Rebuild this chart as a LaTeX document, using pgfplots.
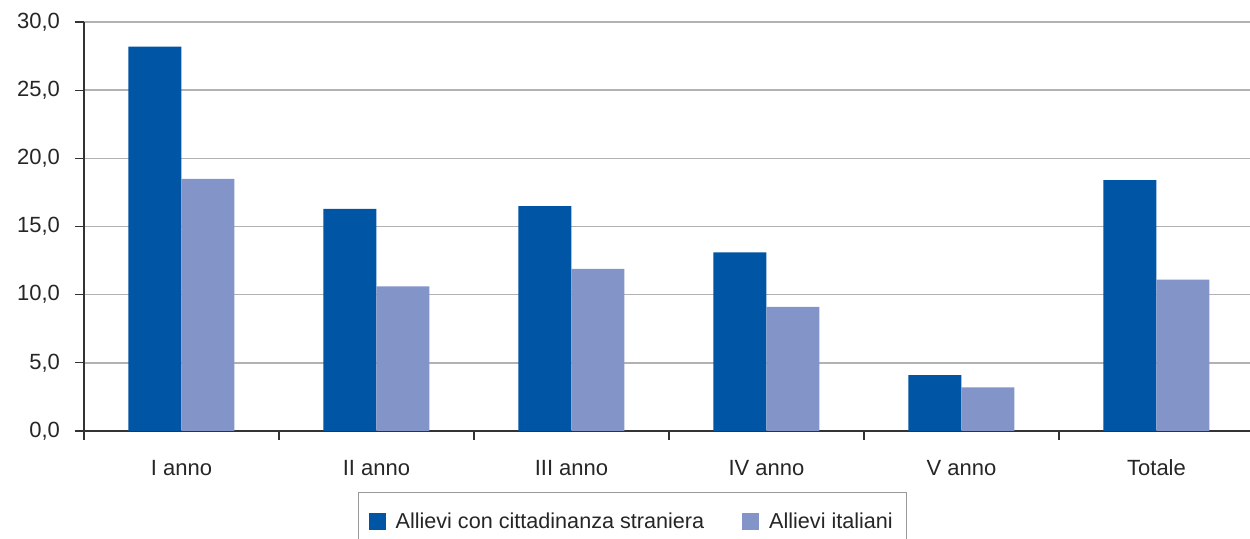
\documentclass[border=0pt]{standalone}
\usepackage{fontspec}
\setmainfont{Liberation Sans}
\usepackage{pgfplots}
\pgfplotsset{compat=1.18}
\definecolor{stranieri}{HTML}{0055A4}
\definecolor{italiani}{HTML}{8294C8}

\begin{document}
\begin{tikzpicture}
% picture frame: the axis runs past the right edge, legend is cut at the bottom
\clip (-42pt,-54pt) rectangle (583pt,215.5pt);
\begin{axis}[
  scale only axis, width=585pt, height=204.5pt,
  ybar=0pt, bar width=26.5pt,
  xmin=-0.5, xmax=5.5, ymin=0, ymax=30,
  xtick={0,...,5},
  xticklabels={I anno, II anno, III anno, IV anno, V anno, Totale},
  major x tick style={draw=none},
  minor xtick={-0.5,0.5,...,5.5},
  ytick={0,5,...,30},
  tick align=outside,
  major tick length=4.5pt, minor tick length=4.5pt,
  tick style={black!80, line width=0.6pt},
  axis x line*=bottom, axis y line*=left,
  axis line style={-, black!80, line width=0.6pt},
  ymajorgrids, grid style={black!30, line width=0.7pt},
  tick label style={font=\fontsize{11}{13}\selectfont, black!85},
  xticklabel style={yshift=-6.5pt},
  yticklabel style={xshift=-4pt},
  /pgf/number format/.cd, fixed, fixed zerofill, precision=1, use comma,
    assume math mode=true,
  /pgfplots/.cd,
  legend columns=2,
  legend style={at={(0.2342,-0.149)}, anchor=north west,
    draw=black!40, line width=0.6pt,
    font=\fontsize{10.8}{13}\selectfont, text=black!85,
    inner xsep=5pt, inner ysep=8pt,
    /tikz/every odd column/.append style={column sep=3pt},
    /tikz/every even column/.append style={column sep=17pt}},
  legend image code/.code={\fill[#1] (0pt,-4.25pt) rectangle (8.5pt,4.25pt);},
]
\addplot[fill=stranieri, draw=none]
  coordinates {(0,28.2) (1,16.3) (2,16.5) (3,13.1) (4,4.1) (5,18.4)};
\addplot[fill=italiani, draw=none]
  coordinates {(0,18.5) (1,10.6) (2,11.9) (3,9.1) (4,3.2) (5,11.1)};
\legend{Allievi con cittadinanza straniera, Allievi italiani}
\end{axis}
\end{tikzpicture}
\end{document}
